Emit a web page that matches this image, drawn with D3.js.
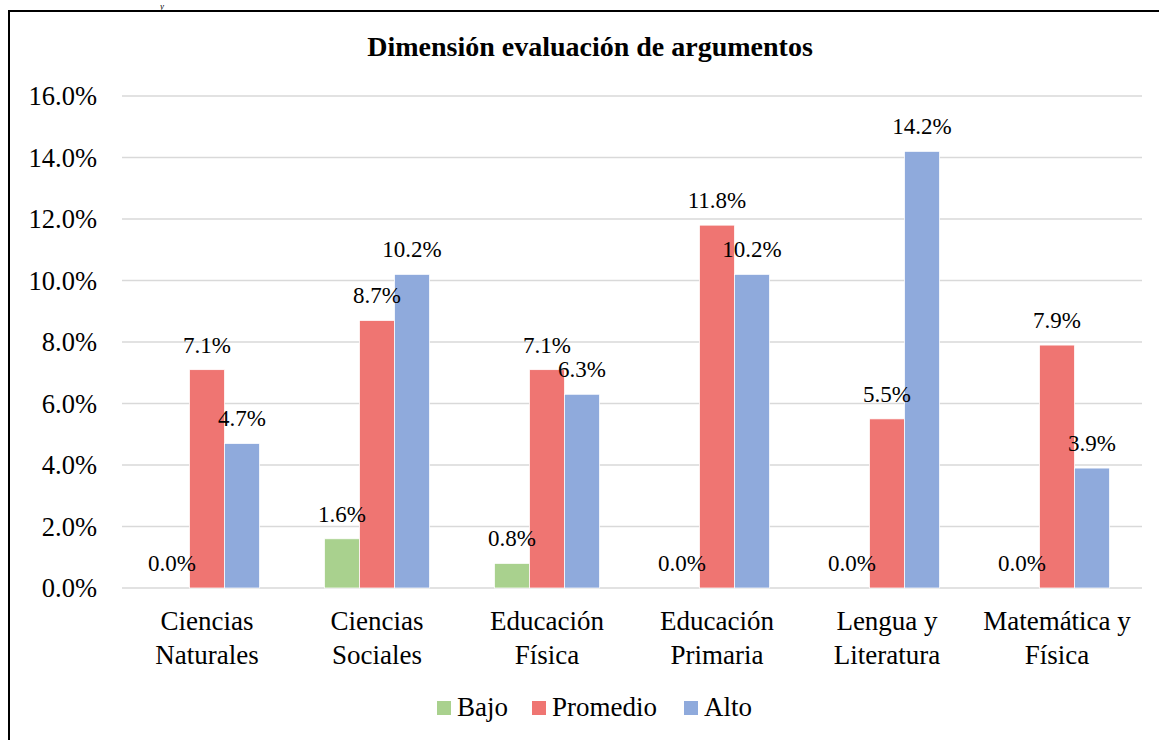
<!DOCTYPE html>
<html><head><meta charset="utf-8">
<script src="https://cdn.jsdelivr.net/npm/d3@7"></script>
<style>body{margin:0;background:#fff}svg{display:block}</style>
</head><body>
<svg id="c" width="1159" height="740" font-family="Liberation Serif, Times New Roman, serif"></svg>
<script>
const categories = [["Ciencias","Naturales"],["Ciencias","Sociales"],["Educación","Física"],["Educación","Primaria"],["Lengua y","Literatura"],["Matemática y","Física"]];
const seriesNames = ["Bajo","Promedio","Alto"];
const bajo = [0.0, 1.6, 0.8, 0.0, 0.0, 0.0];
const promedio = [7.1, 8.7, 7.1, 11.8, 5.5, 7.9];
const alto = [4.7, 10.2, 6.3, 10.2, 14.2, 3.9];
const yTicks = [0,2,4,6,8,10,12,14,16];
const colors = ["#a9d18e","#ef7572","#8faadc"];
const title = "Dimensión evaluación de argumentos";

const FONT = "Liberation Serif, Times New Roman, serif";
const svg = d3.select("#c");
const values = [bajo, promedio, alto];
const catKeys = categories.map(c => c.join(" "));

// frame
svg.append("path").attr("d","M9,740 V11 H1159").attr("fill","none").attr("stroke","#000").attr("stroke-width",2);
svg.append("text").attr("x",160).attr("y",9).attr("font-family",FONT).attr("font-style","italic").attr("font-size",9).text("y");

const x = d3.scaleBand().domain(catKeys).range([122,1142]).paddingInner(0.382).paddingOuter(0.191);
const xs = d3.scaleBand().domain(seriesNames).range([0,x.bandwidth()]);
const y = d3.scaleLinear().domain([0,16]).range([588,96]);

// gridlines
svg.append("g").selectAll("line").data(yTicks).join("line")
  .attr("x1",122).attr("x2",1142).attr("y1",d=>y(d)).attr("y2",d=>y(d))
  .attr("stroke","#d9d9d9").attr("stroke-width",1.5);

// y labels
svg.append("g").selectAll("text").data(yTicks).join("text")
  .attr("x",97).attr("y",d=>y(d)).attr("dy","0.35em").attr("text-anchor","end")
  .attr("font-family",FONT).attr("font-size",26.5).text(d=>d.toFixed(1)+"%");

// bars
const rows = [];
catKeys.forEach((c,i)=>seriesNames.forEach((s,j)=>rows.push({c,s,v:values[j][i],j})));
svg.append("g").selectAll("rect").data(rows).join("rect")
  .attr("x",d=>x(d.c)+xs(d.s)).attr("width",xs.bandwidth())
  .attr("y",d=>y(d.v)).attr("height",d=>y(0)-y(d.v))
  .attr("fill",d=>colors[d.j]).attr("stroke","#fff").attr("stroke-width",0.75);

// data labels
svg.append("g").selectAll("text").data(rows).join("text")
  .attr("x",d=>x(d.c)+xs(d.s)+xs.bandwidth()/2).attr("y",d=>y(d.v)-17)
  .attr("text-anchor","middle").attr("font-family",FONT).attr("font-size",23).text(d=>d.v.toFixed(1)+"%");

// category labels
const cg = svg.append("g").selectAll("text").data(categories).join("text")
  .attr("text-anchor","middle").attr("font-family",FONT).attr("font-size",27)
  .attr("transform",(d,i)=>`translate(${x(catKeys[i])+x.bandwidth()/2},630)`);
cg.selectAll("tspan").data(d=>d).join("tspan").attr("x",0).attr("dy",(d,i)=>i?33.5:0).text(d=>d);

// title
svg.append("text").attr("x",590).attr("y",56).attr("text-anchor","middle")
  .attr("font-family",FONT).attr("font-weight","bold").attr("font-size",28).text(title);

// legend
const lx = [437,532,684];
const lg = svg.append("g").selectAll("g").data(seriesNames).join("g")
  .attr("transform",(d,i)=>`translate(${lx[i]},0)`);
lg.append("rect").attr("x",0).attr("y",701).attr("width",14).attr("height",14).attr("fill",(d,i)=>colors[i]);
lg.append("text").attr("x",20).attr("y",716).attr("font-family",FONT).attr("font-size",27).text(d=>d);
</script>
</body></html>
